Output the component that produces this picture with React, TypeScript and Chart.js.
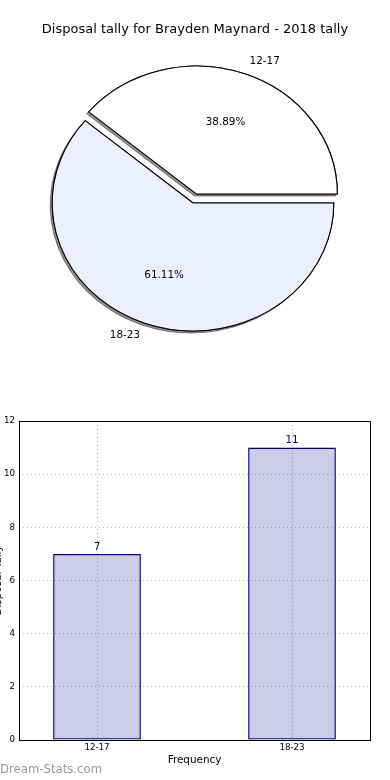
import React, { useEffect, useRef } from "react";
import { Chart, registerables } from "chart.js";

Chart.register(...registerables);

// ---- data ----
const categories = ["12-17", "18-23"];
const tallies = [7, 11];
const yTickStep = 2;
const yMax = 12;
const chartTitle = "Disposal tally for Brayden Maynard - 2018 tally";
const xTitle = "Frequency";
const yTitle = "Disposal Tally";
const watermark = "Dream-Stats.com";

// ---- style ----
const FONT = "'DejaVu Sans', sans-serif";
const sliceColors = ["#ffffff", "#eaf0fd"];
const PIE_SX = 1.1; // horizontal stretch of the pie (matplotlib non-equal aspect)
const explodePx = [9.5, 0];

const piePlugin = {
  id: "pieCustom",
  beforeDatasetDraw(chart: any, args: any) {
    const ctx = chart.ctx as CanvasRenderingContext2D;
    const arcs = chart.getDatasetMeta(args.index).data as any[];
    const pass = (shadow: boolean) => {
      arcs.forEach((arc, i) => {
        const mid = (arc.startAngle + arc.endAngle) / 2;
        const d = explodePx[i] || 0;
        ctx.save();
        if (shadow) {
          ctx.shadowColor = "rgba(0,0,0,0.42)";
          ctx.shadowOffsetX = -2;
          ctx.shadowOffsetY = 2;
          ctx.shadowBlur = 0;
        }
        ctx.translate(arc.x + Math.cos(mid) * d * PIE_SX, arc.y + Math.sin(mid) * d);
        ctx.scale(PIE_SX, 1);
        ctx.translate(-arc.x, -arc.y);
        arc.draw(ctx);
        ctx.restore();
      });
    };
    pass(true);
    pass(false);
    return false;
  },
  afterDraw(chart: any) {
    const ctx = chart.ctx as CanvasRenderingContext2D;
    const arcs = chart.getDatasetMeta(0).data as any[];
    const total = tallies.reduce((a, b) => a + b, 0);
    ctx.save();
    ctx.fillStyle = "#000";
    ctx.textBaseline = "middle";
    // title
    ctx.font = `13px ${FONT}`;
    ctx.textAlign = "center";
    ctx.fillText(chartTitle, chart.width / 2, 30);
    ctx.font = `10.4px ${FONT}`;
    arcs.forEach((arc, i) => {
      const mid = (arc.startAngle + arc.endAngle) / 2;
      const d = explodePx[i] || 0;
      const cx = arc.x + Math.cos(mid) * d * PIE_SX;
      const cy = arc.y + Math.sin(mid) * d;
      const r = arc.outerRadius;
      const c = Math.cos(mid);
      const s = Math.sin(mid);
      // category label
      ctx.textAlign = c >= 0 ? "left" : "right";
      ctx.fillText(categories[i], cx + c * r * 1.1 * PIE_SX, cy + s * r * 1.1);
      // percentage
      ctx.textAlign = "center";
      const pct = ((tallies[i] / total) * 100).toFixed(2) + "%";
      ctx.fillText(pct, cx + c * r * 0.6 * PIE_SX, cy + s * r * 0.6);
    });
    ctx.restore();
  },
};

const barPlugin = {
  id: "barCustom",
  afterDraw(chart: any) {
    const ctx = chart.ctx as CanvasRenderingContext2D;
    const { left, top, right, bottom } = chart.chartArea;
    ctx.save();
    ctx.strokeStyle = "#000";
    ctx.lineWidth = 1;
    const l = Math.round(left), t = Math.round(top), r = Math.round(right), b = Math.round(bottom);
    ctx.strokeRect(l + 0.5, t + 0.5, r - l, b - t);
    // value labels
    ctx.fillStyle = "#000080";
    ctx.font = `10.4px ${FONT}`;
    ctx.textAlign = "center";
    ctx.textBaseline = "middle";
    const bars = chart.getDatasetMeta(0).data as any[];
    bars.forEach((bb, i) => {
      ctx.fillText(String(tallies[i]), bb.x, bb.y - 7);
    });
    // watermark
    ctx.fillStyle = "#9a9a9a";
    ctx.font = `11.7px ${FONT}`;
    ctx.textAlign = "left";
    ctx.fillText(watermark, 20, 370);
    ctx.restore();
  },
};

export default function App() {
  const pieRef = useRef<HTMLCanvasElement>(null);
  const barRef = useRef<HTMLCanvasElement>(null);

  useEffect(() => {
    const pie = new Chart(pieRef.current as HTMLCanvasElement, {
      type: "pie",
      data: {
        labels: categories,
        datasets: [
          {
            data: tallies,
            backgroundColor: sliceColors,
            borderColor: "#000",
            borderWidth: 1,
            borderJoinStyle: "miter",
          } as any,
        ],
      },
      options: {
        responsive: false,
        animation: false,
        events: [],
        rotation: 310,
        radius: 128,
        layout: { padding: { left: 0, right: 4, top: 0, bottom: 0 } },
        plugins: { legend: { display: false }, tooltip: { enabled: false }, title: { display: false } },
      } as any,
      plugins: [piePlugin],
    });

    const border = { display: false, dash: [1, 3] };

    const bar = new Chart(barRef.current as HTMLCanvasElement, {
      type: "bar",
      data: {
        datasets: [
          {
            data: tallies.map((v, i) => ({ x: i, y: v })),
            backgroundColor: "rgba(0,0,128,0.2)",
            borderColor: "#00008b",
            borderWidth: 1.3,
            borderSkipped: false,
            barPercentage: 0.45,
            categoryPercentage: 1,
          } as any,
        ],
      },
      options: {
        responsive: false,
        animation: false,
        events: [],
        layout: { padding: { left: 0, right: 20, top: 21, bottom: 13 } },
        plugins: { legend: { display: false }, tooltip: { enabled: false } },
        scales: {
          x: {
            type: "linear",
            min: -0.4,
            max: 1.4,
            offset: false,
            z: 1,
            afterBuildTicks: (s: any) => {
              s.ticks = categories.map((_, i) => ({ value: i }));
            },
            afterFit: (s: any) => {
              s.height = 27;
            },
            ticks: {
              callback: (v: any) => categories[v] ?? "",
              font: { family: FONT, size: 8.7 },
              color: "#000",
              padding: 3,
              autoSkip: false,
              maxRotation: 0,
            },
            grid: { color: "#b4b4b4", drawTicks: false, lineWidth: 1, offset: false },
            border,
            title: { display: true, text: xTitle, font: { family: FONT, size: 10.4 }, color: "#000", padding: 0 },
          },
          y: {
            min: 0,
            max: yMax,
            z: 1,
            afterFit: (s: any) => {
              s.width = 39;
            },
            ticks: { stepSize: yTickStep, font: { family: FONT, size: 8.7 }, color: "#000", padding: 4 },
            grid: { color: "#b4b4b4", drawTicks: false, lineWidth: 1 },
            border,
            title: {
              display: true,
              text: yTitle,
              font: { family: FONT, size: 10.4 },
              color: "#000",
              padding: { top: 12, bottom: 0 },
            },
          },
        },
      } as any,
      plugins: [barPlugin],
    });

    return () => {
      pie.destroy();
      bar.destroy();
    };
  }, []);

  return (
    <div>
      <canvas ref={pieRef} width={390} height={406} style={{ position: "absolute", left: 0, top: 0 }} />
      <canvas ref={barRef} width={410} height={380} style={{ position: "absolute", left: -20, top: 400 }} />
    </div>
  );
}
